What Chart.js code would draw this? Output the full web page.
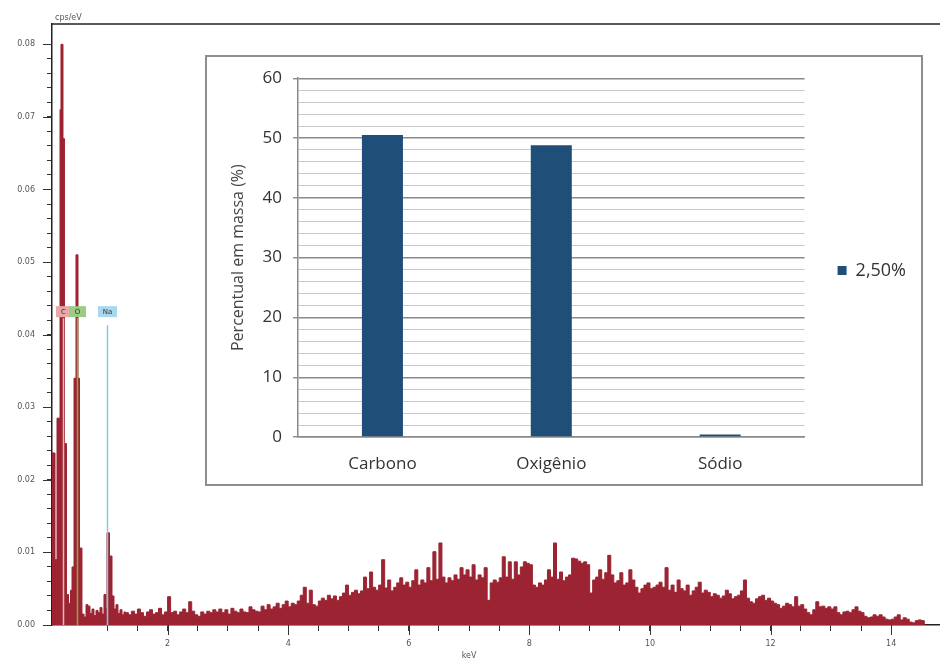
<!DOCTYPE html>
<html>
<head>
<meta charset="utf-8">
<script src="https://cdn.jsdelivr.net/npm/chart.js@4.4.0/dist/chart.umd.min.js"></script>
<style>
  html, body { margin: 0; padding: 0; background: #fff; }
  #wrap { position: relative; width: 940px; height: 660px; overflow: hidden; }
  #spectrum { position: absolute; left: 0; top: 0; }
  #inset {
    position: absolute; left: 205px; top: 55px; width: 718px; height: 431px;
    box-sizing: border-box; border: 2px solid #8e8e8e; background: #fff;
  }
  #inset canvas { display: block; }
</style>
</head>
<body>
<div id="wrap">
  <canvas id="spectrum" width="940" height="660"></canvas>
  <div id="inset"><canvas id="mass" width="714" height="427"></canvas></div>
</div>
<script>
// --- EDS spectrum ---
// around the C, O and Na peaks: channel start (keV) and height (cps/eV)
const peakKeV = [0.083, 0.133, 0.166, 0.216, 0.232, 0.265, 0.290, 0.323, 0.357, 0.390,
  0.415, 0.448, 0.481, 0.514, 0.539, 0.580, 0.614, 0.647, 0.680, 0.713,
  0.746, 0.779, 0.813, 0.846, 0.879, 0.912, 0.945, 0.978, 0.995, 1.036,
  1.078, 1.111, 1.144, 1.177, 1.211, 1.244, 1.277]
const peakCps = [0.0237, 0.0090, 0.0285, 0.0710, 0.0800, 0.0670, 0.0250, 0.0042, 0.0030, 0.0048,
  0.0080, 0.0340, 0.0510, 0.0340, 0.0106, 0.0015, 0.0011, 0.0028, 0.0026, 0.0016,
  0.0022, 0.0013, 0.0020, 0.0017, 0.0024, 0.0015, 0.0042, 0.0022, 0.0127, 0.0095,
  0.0040, 0.0022, 0.0028, 0.0016, 0.0021, 0.0014, 0.0018]

// continuum from 1.30 keV on, 0.05 keV channels
const contStartKeV = 1.30
const contStepKeV = 0.05
const contCps = [
  0.0017, 0.0014, 0.0019, 0.0015, 0.0022, 0.0017, 0.0012, 0.0018, 0.0021, 0.0015, 0.0017, 0.0023, 0.0014, 0.0018,
  0.0039, 0.0017, 0.0019, 0.0014, 0.0018, 0.0022, 0.0017, 0.0032, 0.0019, 0.0014, 0.0012, 0.0018, 0.0015, 0.0019, 0.0017, 0.0021, 0.0018, 0.0022, 0.0017, 0.0021,
  0.0015, 0.0023, 0.0019, 0.0017, 0.0022, 0.0018, 0.0017, 0.0025, 0.0021, 0.0019, 0.0018, 0.0026, 0.0021, 0.0028, 0.0022, 0.0025, 0.0030, 0.0023, 0.0028, 0.0033,
  0.0025, 0.0030, 0.0028, 0.0033, 0.0041, 0.0052, 0.0030, 0.0048, 0.0028, 0.0026, 0.0033, 0.0037, 0.0034, 0.0041, 0.0036, 0.0040, 0.0034, 0.0039, 0.0044, 0.0055,
  0.0041, 0.0045, 0.0048, 0.0043, 0.0047, 0.0066, 0.0050, 0.0073, 0.0052, 0.0048, 0.0055, 0.0090, 0.0051, 0.0062, 0.0047, 0.0052, 0.0058, 0.0065, 0.0055, 0.0059,
  0.0052, 0.0061, 0.0076, 0.0055, 0.0062, 0.0058, 0.0079, 0.0061, 0.0101, 0.0063, 0.0113, 0.0066, 0.0058, 0.0065, 0.0061, 0.0069, 0.0063, 0.0079, 0.0069, 0.0076,
  0.0066, 0.0083, 0.0062, 0.0069, 0.0065, 0.0079, 0.0034, 0.0058, 0.0062, 0.0059, 0.0065, 0.0094, 0.0066, 0.0087, 0.0063, 0.0087, 0.0069, 0.0080, 0.0087, 0.0085,
  0.0083, 0.0055, 0.0052, 0.0058, 0.0055, 0.0062, 0.0076, 0.0066, 0.0113, 0.0063, 0.0073, 0.0061, 0.0066, 0.0069, 0.0092, 0.0091, 0.0088, 0.0085, 0.0087, 0.0083,
  0.0044, 0.0062, 0.0066, 0.0076, 0.0063, 0.0072, 0.0096, 0.0069, 0.0058, 0.0061, 0.0072, 0.0055, 0.0058, 0.0076, 0.0062, 0.0052, 0.0044, 0.0050, 0.0055, 0.0058,
  0.0050, 0.0052, 0.0055, 0.0059, 0.0052, 0.0079, 0.0048, 0.0055, 0.0045, 0.0062, 0.0050, 0.0047, 0.0055, 0.0041, 0.0047, 0.0052, 0.0059, 0.0044, 0.0048, 0.0045,
  0.0039, 0.0043, 0.0041, 0.0037, 0.0040, 0.0048, 0.0043, 0.0036, 0.0039, 0.0041, 0.0047, 0.0062, 0.0037, 0.0032, 0.0030, 0.0036, 0.0039, 0.0041, 0.0034, 0.0037,
  0.0033, 0.0030, 0.0028, 0.0023, 0.0026, 0.0030, 0.0028, 0.0025, 0.0039, 0.0026, 0.0028, 0.0022, 0.0017, 0.0014, 0.0021, 0.0032, 0.0025, 0.0026, 0.0023, 0.0025,
  0.0022, 0.0025, 0.0017, 0.0014, 0.0018, 0.0019, 0.0017, 0.0021, 0.0025, 0.0019, 0.0017, 0.0012, 0.0010, 0.0011, 0.0014, 0.0012, 0.0014, 0.0011, 0.0008, 0.0007,
  0.0008, 0.0011, 0.0014, 0.0007, 0.0010, 0.0008, 0.0004, 0.0003, 0.0006, 0.0007, 0.0006, 0,
]

const xTickLabels = ['2', '4', '6', '8', '10', '12', '14']
const yTickLabels = ['0.00', '0.01', '0.02', '0.03', '0.04', '0.05', '0.06', '0.07', '0.08']

// element tags on the spectrum
const elementNames = ['C', 'O', 'Na']
const elementKeV = [0.26, 0.50, 0.99]

// --- inset: mass percent ---
const elements = ['Carbono', 'Oxigênio', 'Sódio']
const massPercent = [50.5, 48.8, 0.4]
const seriesLabel = '2,50%'
const massTicks = [0, 10, 20, 30, 40, 50, 60]

// styles
const RED = '#9c2432'
const NAVY = '#1f4e79'
const GRID_DARK = '#8a8a8a'
const GRID_LIGHT = '#c9c9c9'
const tagStyle = {
  C: { line: '#efb6b6', box: '#e9a7a5', w: 15 },
  O: { line: '#86a845', box: '#9ccb85', w: 17 },
  Na: { line: '#84c6e3', box: '#a8d8ee', w: 19 },
}
const TAG_LEVEL = 0.0431

const spectrum = peakKeV.map((e, i) => ({ x: e, y: peakCps[i] }))
contCps.forEach((v, i) => spectrum.push({ x: +(contStartKeV + i * contStepKeV).toFixed(2), y: v }))

const near = (v, step) => Math.abs(v / step - Math.round(v / step)) < 1e-6

const spectrumDecor = {
  id: 'spectrumDecor',
  afterDatasetsDraw(chart) {
    const { ctx, chartArea: a, scales: { x, y } } = chart
    const tagY = y.getPixelForValue(TAG_LEVEL)
    ctx.save()
    elementNames.forEach((name, i) => {
      const st = tagStyle[name]
      const px = Math.round(x.getPixelForValue(elementKeV[i])) + 0.5
      ctx.strokeStyle = st.line
      ctx.lineWidth = 1.5
      ctx.beginPath()
      ctx.moveTo(px, tagY + (name === 'Na' ? 13 : 6))
      ctx.lineTo(px, a.bottom)
      ctx.stroke()
      ctx.fillStyle = st.box
      ctx.fillRect(px - st.w / 2, tagY - 6, st.w, 11)
      ctx.fillStyle = '#333'
      ctx.font = '7px "DejaVu Sans"'
      ctx.textAlign = 'center'
      ctx.textBaseline = 'middle'
      ctx.fillText(name, px, tagY)
    })
    ctx.restore()
  },
  afterDraw(chart) {
    const { ctx, chartArea: a, scales: { x, y } } = chart
    ctx.save()
    ctx.strokeStyle = '#222'
    ctx.lineWidth = 1.5
    ctx.beginPath()
    ctx.moveTo(a.left, a.top)
    ctx.lineTo(a.right, a.top)
    ctx.stroke()
    // longer marks at labelled ticks
    ctx.lineWidth = 1
    ctx.strokeStyle = '#333'
    ctx.beginPath()
    xTickLabels.forEach(t => {
      const px = Math.round(x.getPixelForValue(+t)) + 0.5
      ctx.moveTo(px, a.bottom)
      ctx.lineTo(px, a.bottom + 10)
    })
    yTickLabels.forEach(t => {
      const py = Math.round(y.getPixelForValue(+t)) + 0.5
      ctx.moveTo(a.left - 9, py)
      ctx.lineTo(a.left, py)
    })
    ctx.stroke()
    ctx.fillStyle = '#555'
    ctx.font = '8px "DejaVu Sans"'
    ctx.textBaseline = 'alphabetic'
    ctx.textAlign = 'left'
    ctx.fillText('cps/eV', a.left + 3, a.top - 4)
    ctx.textAlign = 'center'
    ctx.fillText('keV', 469, 658)
    ctx.restore()
  },
}

new Chart(document.getElementById('spectrum'), {
  type: 'line',
  data: {
    datasets: [{
      data: spectrum,
      stepped: true,
      fill: 'origin',
      backgroundColor: RED,
      borderColor: RED,
      borderWidth: 1,
      pointRadius: 0,
    }],
  },
  options: {
    responsive: false,
    animation: false,
    layout: { padding: { top: 24, left: 0, right: 0, bottom: 0 } },
    plugins: { legend: { display: false }, tooltip: { enabled: false } },
    scales: {
      x: {
        type: 'linear',
        min: 0.083,
        max: 14.81,
        afterBuildTicks: s => { s.ticks = s.ticks.filter(t => near(t.value, 0.5)) },
        afterFit: s => { s.height = 35 },
        ticks: {
          stepSize: 0.5,
          autoSkip: false,
          maxRotation: 0,
          padding: 8,
          color: '#555',
          font: { size: 8, family: 'DejaVu Sans' },
          callback: v => (near(v, 2) && xTickLabels.includes(String(Math.round(v))) ? String(Math.round(v)) : ''),
        },
        grid: { drawOnChartArea: false, tickLength: 6, color: '#333' },
        border: { color: '#222', width: 1.5 },
      },
      y: {
        min: 0,
        max: 0.0828,
        afterBuildTicks: s => { s.ticks = s.ticks.filter(t => near(t.value, 0.002)) },
        afterFit: s => { s.width = 52 },
        ticks: {
          stepSize: 0.002,
          autoSkip: false,
          padding: 12,
          color: '#555',
          font: { size: 8, family: 'DejaVu Sans' },
          callback: v => (near(v, 0.01) ? yTickLabels[Math.round(v / 0.01)] : ''),
        },
        grid: { drawOnChartArea: false, tickLength: 5, color: '#333' },
        border: { color: '#222', width: 1.5 },
      },
    },
  },
  plugins: [spectrumDecor],
})

const isMajor = ctx => massTicks.includes(ctx.tick.value)

new Chart(document.getElementById('mass'), {
  type: 'bar',
  data: {
    labels: elements,
    datasets: [{
      label: seriesLabel,
      data: massPercent,
      backgroundColor: NAVY,
      borderWidth: 0,
      barPercentage: 0.243,
      categoryPercentage: 1,
    }],
  },
  options: {
    responsive: false,
    animation: false,
    layout: { padding: { left: 18, top: 0, right: 5, bottom: 0 } },
    plugins: {
      tooltip: { enabled: false },
      // empty spacer above the plot only, so the full-height legend sits a bit higher
      title: { display: true, text: '', fullSize: false, font: { size: 10, lineHeight: 1 }, padding: { top: 11, bottom: 0 } },
      legend: {
        position: 'right',
        labels: {
          boxWidth: 9,
          boxHeight: 9,
          padding: 33,
          color: '#333',
          font: { size: 18, family: 'Open Sans' },
        },
      },
    },
    scales: {
      x: {
        afterFit: s => { s.height = 47 },
        grid: { display: false, drawTicks: false },
        border: { color: GRID_DARK, width: 1.5 },
        ticks: { padding: 17, color: '#333', font: { size: 17, family: 'Open Sans' } },
      },
      y: {
        min: 0,
        max: 60,
        afterFit: s => { s.width = 73 },
        ticks: {
          stepSize: 2,
          autoSkip: false,
          padding: 11,
          color: '#333',
          font: { size: 17, family: 'Open Sans' },
          callback: v => (massTicks.includes(v) ? String(v) : ''),
        },
        grid: {
          color: ctx => (isMajor(ctx) ? GRID_DARK : GRID_LIGHT),
          lineWidth: ctx => (isMajor(ctx) ? 1.4 : 1),
          tickColor: ctx => (isMajor(ctx) ? GRID_DARK : 'rgba(0,0,0,0)'),
          tickLength: 5,
        },
        border: { color: GRID_DARK, width: 1.5 },
        title: {
          display: true,
          text: 'Percentual em massa (%)',
          color: '#444',
          font: { size: 16, family: 'Open Sans' },
          padding: { top: 4, bottom: 4 },
        },
      },
    },
  },
})
</script>
</body>
</html>
